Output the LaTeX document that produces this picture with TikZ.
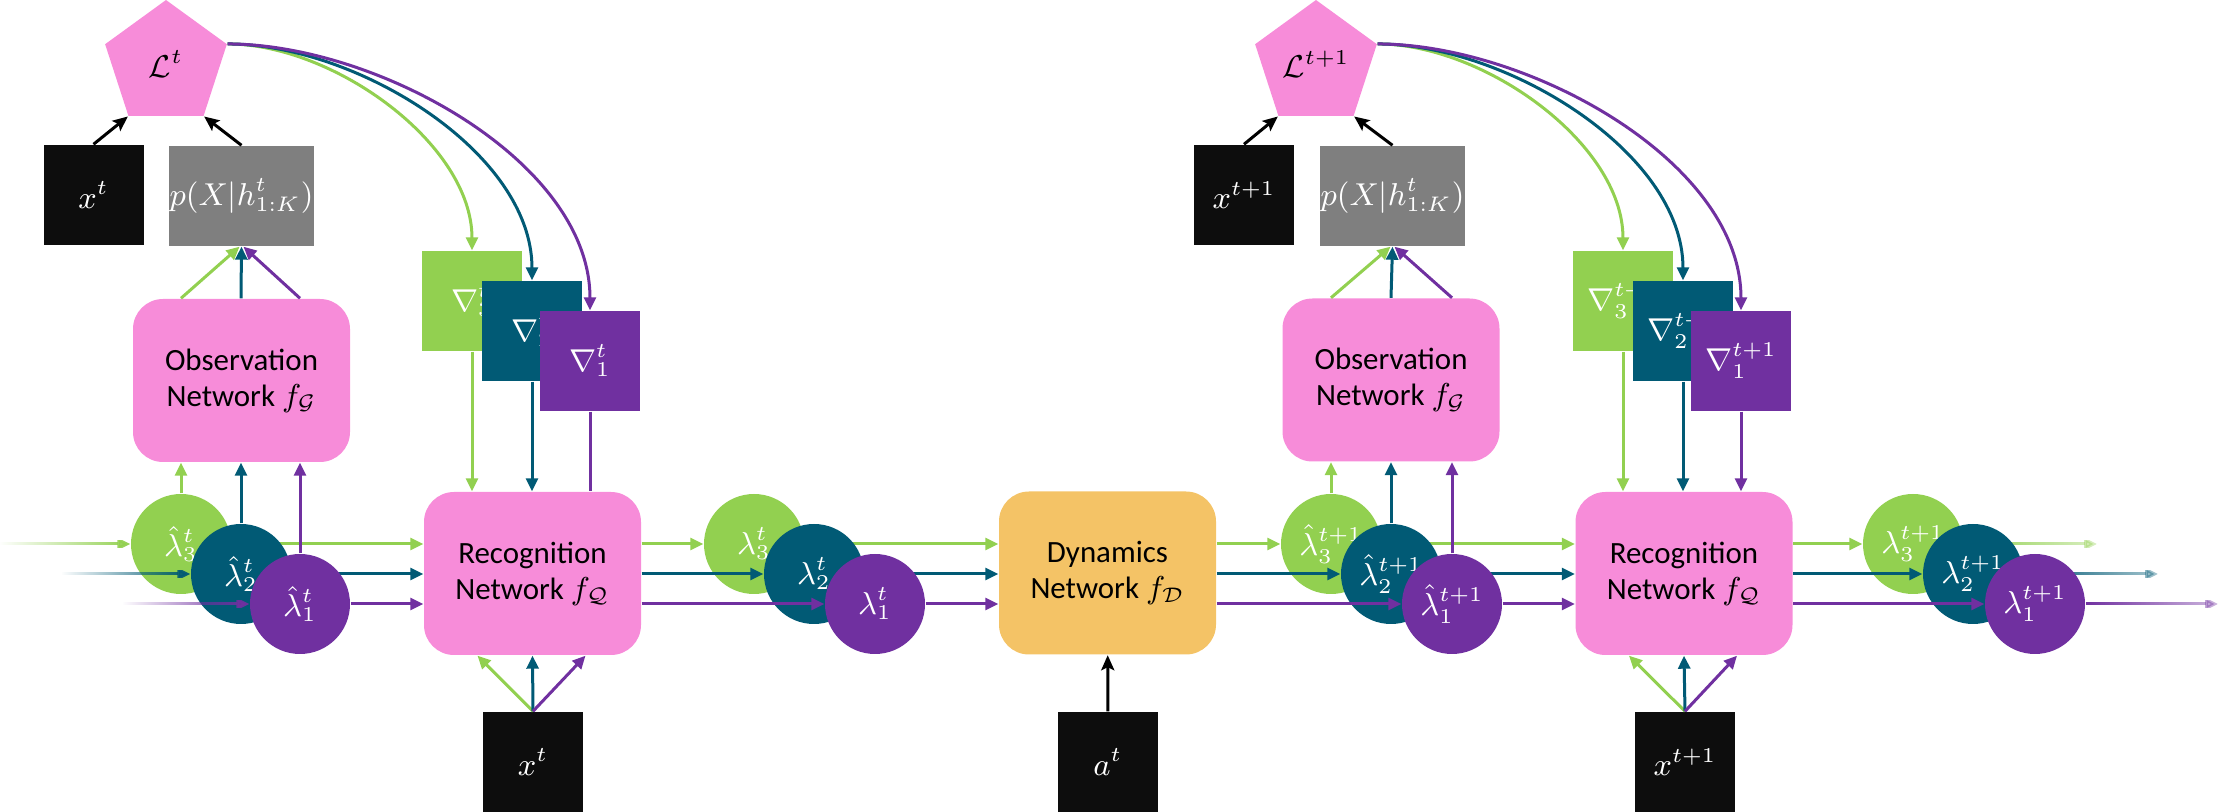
\documentclass[tikz,border=0pt]{standalone}
\usepackage{amsmath}
\usepackage{fontspec}
\setmainfont{Carlito}
\usetikzlibrary{arrows.meta,positioning,shapes.geometric,calc,backgrounds,fadings}
\definecolor{pinkn}{HTML}{F78CD9}
\definecolor{greenn}{HTML}{92D050}
\definecolor{tealn}{HTML}{015A75}
\definecolor{purplen}{HTML}{7030A0}
\definecolor{blackn}{HTML}{0D0D0D}
\definecolor{grayn}{HTML}{7F7F7F}
\definecolor{orangen}{HTML}{F4C366}
\tikzfading[name=fadein, left color=transparent!100, right color=transparent!0]
\tikzfading[name=fadeout, left color=transparent!0, right color=transparent!65]

\begin{document}
\begin{tikzpicture}[
   x=1mm,y=1mm,
   font=\fontsize{8.8}{10.2}\selectfont,
   box/.style  ={minimum width=10mm,minimum height=10mm,inner sep=0pt,text=white},
   dat/.style  ={box,fill=blackn},
   lik/.style  ={box,fill=grayn,minimum width=14.5mm},
   net/.style  ={fill=pinkn,rounded corners=3mm,minimum width=21.7mm,minimum height=16.3mm,inner sep=0pt,align=center},
   dyn/.style  ={net,fill=orangen},
   loss/.style ={regular polygon,regular polygon sides=5,fill=pinkn,minimum size=12.8mm,inner sep=0pt},
   lam/.style  ={circle,minimum size=10mm,inner sep=0pt,text=white},
   fl/.style   ={-{Triangle[length=1.3mm,width=1.2mm]},line width=0.3mm},
   kf/.style   ={-{Stealth[length=1.5mm,width=1.3mm,inset=0.3mm]},line width=0.3mm,draw=black}
  ]
  \useasboundingbox (0,0) rectangle (223.1,-81.2);

  % step t
  \node[loss] (L1) at (16.6,-6.4) {$\mathcal{L}^t$};
  \node[dat] (x1) at (9.35,-19.5) {$x^t$};
  \node[lik] (p1) at (24.15,-19.6) {$p(X|h^t_{1:K})$};
  \node[net] (obs1) at (24.15,-38.05) {Observation\\Network $f_{\mathcal{G}}$};
  \node[box,fill=greenn] (n31) at (47.2,-30.1) {$\nabla^t_3$};
  \node[box,fill=tealn] (n21) at (53.2,-33.1) {$\nabla^t_2$};
  \node[box,fill=purplen] (n11) at (59.0,-36.1) {$\nabla^t_1$};
  \node[lam,fill=greenn] (h31) at (18.1,-54.4) {$\hat{\lambda}^t_3$};
  \node[lam,fill=tealn] (h21) at (24.1,-57.4) {$\hat{\lambda}^t_2$};
  \node[lam,fill=purplen] (h11) at (30.0,-60.4) {$\hat{\lambda}^t_1$};
  \node[net] (rec1) at (53.25,-57.35) {Recognition\\Network $f_{\mathcal{Q}}$};
  \node[dat] (xb1) at (53.3,-76.2) {$x^t$};
  \node[lam,fill=greenn] (l31) at (75.4,-54.4) {$\lambda^t_3$};
  \node[lam,fill=tealn] (l21) at (81.4,-57.4) {$\lambda^t_2$};
  \node[lam,fill=purplen] (l11) at (87.5,-60.4) {$\lambda^t_1$};

  % dynamics
  \node[dyn] (dyn) at (110.75,-57.3) {Dynamics\\Network $f_{\mathcal{D}}$};
  \node[dat] (a) at (110.8,-76.2) {$a^t$};

  % step t+1
  \node[loss] (L2) at (131.6,-6.4) {$\mathcal{L}^{t+1}$};
  \node[dat] (x2) at (124.4,-19.5) {$x^{t+1}$};
  \node[lik] (p2) at (139.25,-19.6) {$p(X|h^t_{1:K})$};
  \node[net] (obs2) at (139.1,-38.0) {Observation\\Network $f_{\mathcal{G}}$};
  \node[box,fill=greenn] (n32) at (162.3,-30.1) {$\nabla^{t+1}_3$};
  \node[box,fill=tealn] (n22) at (168.3,-33.1) {$\nabla^{t+1}_2$};
  \node[box,fill=purplen] (n12) at (174.1,-36.1) {$\nabla^{t+1}_1$};
  \node[lam,fill=greenn] (h32) at (133.1,-54.4) {$\hat{\lambda}^{t+1}_3$};
  \node[lam,fill=tealn] (h22) at (139.1,-57.4) {$\hat{\lambda}^{t+1}_2$};
  \node[lam,fill=purplen] (h12) at (145.2,-60.4) {$\hat{\lambda}^{t+1}_1$};
  \node[net] (rec2) at (168.4,-57.35) {Recognition\\Network $f_{\mathcal{Q}}$};
  \node[dat] (xb2) at (168.5,-76.2) {$x^{t+1}$};
  \node[lam,fill=greenn] (l32) at (191.3,-54.4) {$\lambda^{t+1}_3$};
  \node[lam,fill=tealn] (l22) at (197.3,-57.4) {$\lambda^{t+1}_2$};
  \node[lam,fill=purplen] (l12) at (203.5,-60.4) {$\lambda^{t+1}_1$};

  % free ends
  \coordinate (in3) at (0,-54.4);
  \coordinate (in2) at (6.2,-57.4);
  \coordinate (in1) at (12.3,-60.4);
  \coordinate (out3) at (209.7,-54.4);
  \coordinate (out2) at (215.8,-57.4);
  \coordinate (out1) at (221.8,-60.4);

  % lines running behind the circles
  \begin{scope}[on background layer]
    \draw[fl,greenn] (h31) -- (h31 -| rec1.west);
    \draw[fl,tealn] (h21) -- (h21 -| rec1.west);
    \draw[fl,purplen] (h11) -- (h11 -| rec1.west);
    \draw[fl,greenn] (l31) -- (l31 -| dyn.west);
    \draw[fl,tealn] (l21) -- (l21 -| dyn.west);
    \draw[fl,purplen] (l11) -- (l11 -| dyn.west);
    \draw[fl,greenn] (h32) -- (h32 -| rec2.west);
    \draw[fl,tealn] (h22) -- (h22 -| rec2.west);
    \draw[fl,purplen] (h12) -- (h12 -| rec2.west);
    \draw[fl,greenn,path fading=fadeout] (l32) -- (out3);
    \draw[fl,tealn,path fading=fadeout] (l22) -- (out2);
    \draw[fl,purplen,path fading=fadeout] (l12) -- (out1);
  \end{scope}

  % step t connectors
  \draw[fl,greenn,path fading=fadein] (in3) -- (h31);
  \draw[fl,tealn,path fading=fadein] (in2) -- (h21);
  \draw[fl,purplen,path fading=fadein] (in1) -- (h11);
  \draw[fl,greenn] (h31) -- (h31 |- obs1.south);
  \draw[fl,tealn] (h21) -- (h21 |- obs1.south);
  \draw[fl,purplen] (h11) -- (h11 |- obs1.south);
  \draw[fl,greenn] (obs1.north -| h31) -- ([xshift=-0.2mm]p1.south);
  \draw[fl,purplen] (obs1.north -| h11) -- ([xshift=0.2mm]p1.south);
  \draw[fl,tealn] (obs1.north -| h21) -- (p1.south);
  \draw[kf] (x1.north) -- (L1.corner 3);
  \draw[kf] (p1.north) -- (L1.corner 4);
  \draw[fl,greenn] (L1.corner 5) to[out=0,in=90,looseness=0.85] (n31.north);
  \draw[fl,tealn] (L1.corner 5) to[out=0,in=90,looseness=0.85] (n21.north);
  \draw[fl,purplen] (L1.corner 5) to[out=0,in=90,looseness=0.85] (n11.north);
  \draw[fl,greenn] (n31) -- (n31 |- rec1.north);
  \draw[fl,tealn] (n21) -- (n21 |- rec1.north);
  \draw[purplen,line width=0.3mm] (n11) -- (n11 |- rec1.north);
  \draw[fl,greenn] (xb1.north) -- ([xshift=-5.5mm]rec1.south);
  \draw[fl,tealn] (xb1.north) -- (rec1.south);
  \draw[fl,purplen] (xb1.north) -- ([xshift=5.3mm]rec1.south);
  \draw[fl,greenn] (rec1.east |- l31) -- (l31);
  \draw[fl,tealn] (rec1.east |- l21) -- (l21);
  \draw[fl,purplen] (rec1.east |- l11) -- (l11);

  % dynamics connectors
  \draw[kf] (a) -- (dyn);
  \draw[fl,greenn] (dyn.east |- h32) -- (h32);
  \draw[fl,tealn] (dyn.east |- h22) -- (h22);
  \draw[fl,purplen] (dyn.east |- h12) -- (h12);

  % step t+1 connectors
  \draw[fl,greenn] (h32) -- (h32 |- obs2.south);
  \draw[fl,tealn] (h22) -- (h22 |- obs2.south);
  \draw[fl,purplen] (h12) -- (h12 |- obs2.south);
  \draw[fl,greenn] (obs2.north -| h32) -- ([xshift=-0.2mm]p2.south);
  \draw[fl,purplen] (obs2.north -| h12) -- ([xshift=0.2mm]p2.south);
  \draw[fl,tealn] (obs2.north -| h22) -- (p2.south);
  \draw[kf] (x2.north) -- (L2.corner 3);
  \draw[kf] (p2.north) -- (L2.corner 4);
  \draw[fl,greenn] (L2.corner 5) to[out=0,in=90,looseness=0.85] (n32.north);
  \draw[fl,tealn] (L2.corner 5) to[out=0,in=90,looseness=0.85] (n22.north);
  \draw[fl,purplen] (L2.corner 5) to[out=0,in=90,looseness=0.85] (n12.north);
  \draw[fl,greenn] (n32) -- (n32 |- rec2.north);
  \draw[fl,tealn] (n22) -- (n22 |- rec2.north);
  \draw[fl,purplen] (n12) -- (n12 |- rec2.north);
  \draw[fl,greenn] (xb2.north) -- ([xshift=-5.5mm]rec2.south);
  \draw[fl,tealn] (xb2.north) -- (rec2.south);
  \draw[fl,purplen] (xb2.north) -- ([xshift=5.3mm]rec2.south);
  \draw[fl,greenn] (rec2.east |- l32) -- (l32);
  \draw[fl,tealn] (rec2.east |- l22) -- (l22);
  \draw[fl,purplen] (rec2.east |- l12) -- (l12);
\end{tikzpicture}
\end{document}
